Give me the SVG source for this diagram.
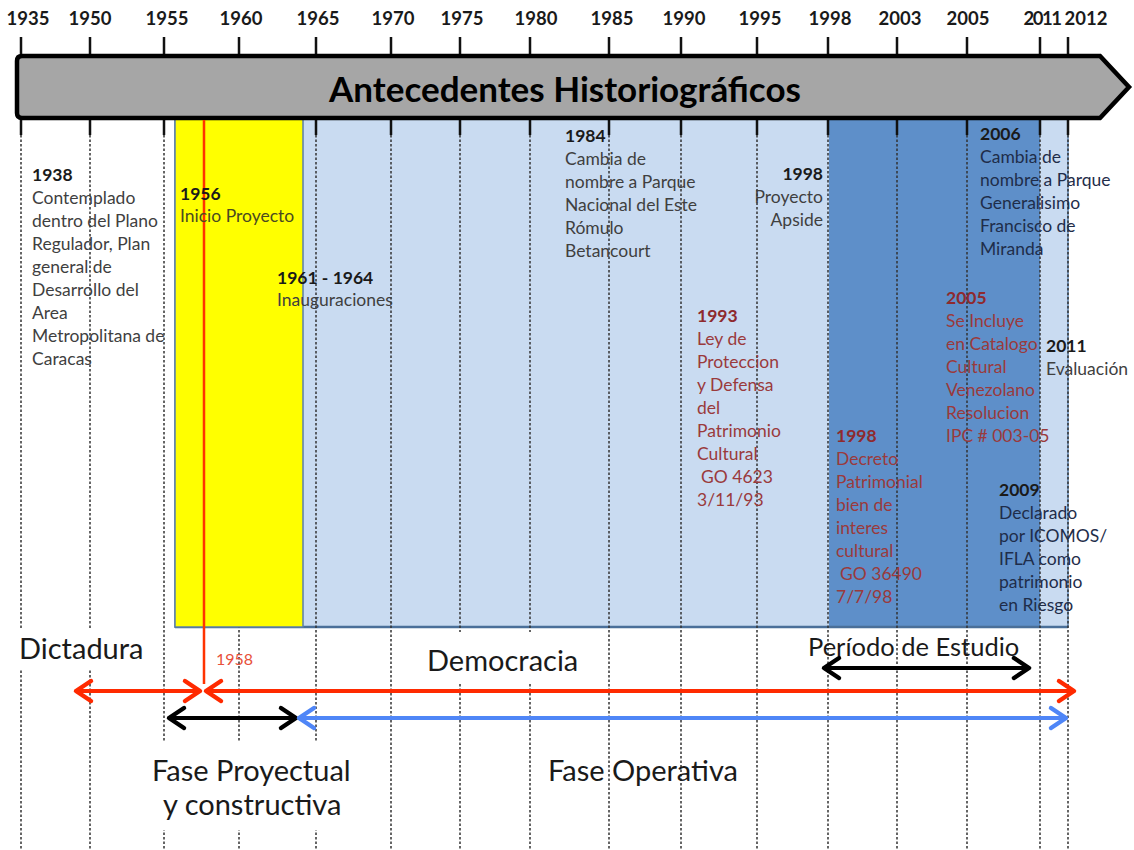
<svg xmlns="http://www.w3.org/2000/svg" width="1134" height="850" viewBox="0 0 1134 850">
<style>
.yr{font-family:Lato,"Liberation Sans",sans-serif;font-weight:bold;font-size:18.5px;fill:#1a1a1a;text-anchor:middle}
.ev{font-family:Lato,"Liberation Sans",sans-serif;font-size:17.5px;fill:#3f3f3f}
.evb{font-weight:bold;fill:#1a1a1a}
.red{fill:#9a3a3c}
.redb{fill:#8e2a2e;font-weight:bold}
.navy{fill:#1f2d4a}
.big{font-family:Lato,"Liberation Sans",sans-serif;font-size:29px;fill:#1a1a1a}
.grid{stroke:#333;stroke-width:1.5;stroke-dasharray:2.5 2}
.tick{stroke:#111;stroke-width:2.5}
</style>
<defs>
<marker id="mr" markerUnits="userSpaceOnUse" markerWidth="40" markerHeight="40" refX="0" refY="0" viewBox="-20 -20 40 40" orient="auto-start-reverse" overflow="visible"><path d="M-15,-10 L0,0 L-15,10" fill="none" stroke="#ff2a00" stroke-width="4.5" stroke-linecap="round" stroke-linejoin="round"/></marker>
<marker id="mk" markerUnits="userSpaceOnUse" markerWidth="40" markerHeight="40" refX="0" refY="0" viewBox="-20 -20 40 40" orient="auto-start-reverse" overflow="visible"><path d="M-15,-10 L0,0 L-15,10" fill="none" stroke="#000" stroke-width="4.5" stroke-linecap="round" stroke-linejoin="round"/></marker>
<marker id="mb" markerUnits="userSpaceOnUse" markerWidth="40" markerHeight="40" refX="0" refY="0" viewBox="-20 -20 40 40" orient="auto-start-reverse" overflow="visible"><path d="M-15,-10 L0,0 L-15,10" fill="none" stroke="#4f86f7" stroke-width="4.5" stroke-linecap="round" stroke-linejoin="round"/></marker>
</defs>
<rect width="1134" height="850" fill="#fff"/>

<g id="periods">
<rect x="175" y="118" width="893" height="509" fill="#c9dbf1" stroke="#5b82b0" stroke-width="1.5"/>
<rect x="829" y="118" width="211" height="509" fill="#5e8fc9"/>
<line x1="175" y1="627" x2="1068" y2="627" stroke="#4a6f99" stroke-width="2.5"/>
</g>

<g id="grid">
<g class="grid">
<line x1="21" y1="135" x2="21" y2="850"/>
<line x1="90" y1="135" x2="90" y2="850"/>
<line x1="164" y1="135" x2="164" y2="850"/>
<line x1="239" y1="135" x2="239" y2="850"/>
<line x1="316" y1="135" x2="316" y2="850"/>
<line x1="391" y1="135" x2="391" y2="850"/>
<line x1="460" y1="135" x2="460" y2="850"/>
<line x1="530" y1="135" x2="530" y2="850"/>
<line x1="609" y1="135" x2="609" y2="850"/>
<line x1="681" y1="135" x2="681" y2="850"/>
<line x1="757" y1="135" x2="757" y2="850"/>
<line x1="828" y1="135" x2="828" y2="850"/>
<line x1="897" y1="135" x2="897" y2="850"/>
<line x1="967" y1="135" x2="967" y2="850"/>
<line x1="1040" y1="135" x2="1040" y2="850"/>
<line x1="1068" y1="135" x2="1068" y2="850"/>
</g>
<g class="tick">
<path d="M21,37V55M90,37V55M164,37V55M239,37V55M316,37V55M391,37V55M460,37V55M530,37V55M609,37V55M681,37V55M757,37V55M828,37V55M897,37V55M967,37V55M1040,37V55M1068,37V55"/>
<path d="M21,118V135M90,118V135M164,118V135M316,118V135M391,118V135M460,118V135M530,118V135M609,118V135M681,118V135M757,118V135M828,118V135M897,118V135M967,118V135M1040,118V135M1068,118V135"/>
</g>
</g>

<g id="yellow">
<rect x="175" y="118" width="128" height="509" fill="#ffff00" stroke="#5b7fa8" stroke-width="1.5"/>
</g>

<g id="years">
<text class="yr" x="28" y="25">1935</text>
<text class="yr" x="90" y="25">1950</text>
<text class="yr" x="167" y="25">1955</text>
<text class="yr" x="241" y="25">1960</text>
<text class="yr" x="318" y="25">1965</text>
<text class="yr" x="393" y="25">1970</text>
<text class="yr" x="462" y="25">1975</text>
<text class="yr" x="536" y="25">1980</text>
<text class="yr" x="612" y="25">1985</text>
<text class="yr" x="684" y="25">1990</text>
<text class="yr" x="760" y="25">1995</text>
<text class="yr" x="830" y="25">1998</text>
<text class="yr" x="900" y="25">2003</text>
<text class="yr" x="968" y="25">2005</text>
<text class="yr" x="1042" y="25" letter-spacing="-1.5">2011</text>
<text class="yr" x="1086" y="25">2012</text>
</g>

<g id="bar">
<path d="M22,56 H1100 L1129,87 L1100,118 H22 Q17,118 17,113 V61 Q17,56 22,56 Z" fill="#a6a6a6" stroke="#000" stroke-width="4.5" stroke-linejoin="miter"/>
<text x="565" y="102" text-anchor="middle" font-family="Lato,'Liberation Sans',sans-serif" font-weight="bold" font-size="35" fill="#000">Antecedentes Historiográficos</text>
</g>

<g id="red-line">
<line x1="204" y1="120" x2="204" y2="684" stroke="#ff3300" stroke-width="2.5"/>
</g>

<g id="ev1938" class="ev">
<text x="32" y="181" class="evb">1938</text>
<text x="32" y="204">Contemplado</text>
<text x="32" y="227">dentro del Plano</text>
<text x="32" y="250">Regulador, Plan</text>
<text x="32" y="273">general de</text>
<text x="32" y="296">Desarrollo del</text>
<text x="32" y="319">Area</text>
<text x="32" y="342">Metropolitana de</text>
<text x="32" y="365">Caracas</text>
</g>
<g id="ev1956" class="ev">
<text x="180" y="200" class="evb">1956</text>
<text x="180" y="222" fill="#4a4a20">Inicio Proyecto</text>
</g>
<g id="ev1961" class="ev">
<text x="277" y="284" class="evb">1961 - 1964</text>
<text x="277" y="306">Inauguraciones</text>
</g>
<g id="ev1984" class="ev">
<text x="565" y="142" class="evb">1984</text>
<text x="565" y="165">Cambia de</text>
<text x="565" y="188">nombre a Parque</text>
<text x="565" y="211">Nacional del Este</text>
<text x="565" y="234">Rómulo</text>
<text x="565" y="257">Betancourt</text>
</g>
<g id="ev1998a" class="ev" text-anchor="end">
<text x="823" y="180" class="evb">1998</text>
<text x="823" y="203">Proyecto</text>
<text x="823" y="226">Apside</text>
</g>
<g id="ev1993" class="ev">
<text x="697" y="322" class="redb">1993</text>
<text x="697" y="345" class="red">Ley de</text>
<text x="697" y="368" class="red">Proteccion</text>
<text x="697" y="391" class="red">y Defensa</text>
<text x="697" y="414" class="red">del</text>
<text x="697" y="437" class="red">Patrimonio</text>
<text x="697" y="460" class="red">Cultural</text>
<text x="701" y="483" class="red">GO 4623</text>
<text x="697" y="506" class="red">3/11/93</text>
</g>
<g id="ev1998b" class="ev">
<text x="836" y="442" class="redb">1998</text>
<text x="836" y="465" class="red">Decreto</text>
<text x="836" y="488" class="red">Patrimonial</text>
<text x="836" y="511" class="red">bien de</text>
<text x="836" y="534" class="red">interes</text>
<text x="836" y="557" class="red">cultural</text>
<text x="840" y="580" class="red">GO 36490</text>
<text x="836" y="603" class="red">7/7/98</text>
</g>
<g id="ev2006" class="ev">
<text x="980" y="140" class="evb">2006</text>
<text x="980" y="163" class="navy">Cambia de</text>
<text x="980" y="186" class="navy">nombre a Parque</text>
<text x="980" y="209" class="navy">Generalisimo</text>
<text x="980" y="232" class="navy">Francisco de</text>
<text x="980" y="255" class="navy">Miranda</text>
</g>
<g id="ev2005" class="ev">
<text x="946" y="304" class="redb">2005</text>
<text x="946" y="327" class="red">Se Incluye</text>
<text x="946" y="350" class="red">en Catalogo</text>
<text x="946" y="373" class="red">Cultural</text>
<text x="946" y="396" class="red">Venezolano</text>
<text x="946" y="419" class="red">Resolucion</text>
<text x="946" y="442" class="red">IPC # 003-05</text>
</g>
<g id="ev2011" class="ev">
<text x="1046" y="352" class="evb">2011</text>
<text x="1046" y="375">Evaluación</text>
</g>
<g id="ev2009" class="ev">
<text x="999" y="496" class="evb">2009</text>
<text x="999" y="519" class="navy">Declarado</text>
<text x="999" y="542" class="navy">por ICOMOS/</text>
<text x="999" y="565" class="navy">IFLA como</text>
<text x="999" y="588" class="navy">patrimonio</text>
<text x="999" y="611" class="navy">en Riesgo</text>
</g>

<g id="labels">
<rect x="5" y="630" width="150" height="40" fill="#fff"/>
<text class="big" x="19" y="659">Dictadura</text>
<rect x="420" y="632" width="180" height="52" fill="#fff"/>
<text class="big" x="427" y="671">Democracia</text>
<text class="big" x="808" y="656" style="font-size:25.5px">Período de Estudio</text>
<text x="216" y="665" font-family="Lato,'Liberation Sans',sans-serif" font-size="16" fill="#e8503a">1958</text>
<rect x="145" y="742" width="218" height="88" fill="#fff"/>
<text class="big" x="152" y="781">Fase Proyectual</text>
<text class="big" x="163" y="815">y constructiva</text>
<text class="big" x="548" y="781">Fase Operativa</text>
</g>

<g id="connectors" fill="none" stroke-width="4">
<line x1="76" y1="691" x2="200" y2="691" stroke="#ff2a00" marker-start="url(#mr)" marker-end="url(#mr)"/>
<line x1="206" y1="691" x2="1074" y2="691" stroke="#ff2a00" marker-start="url(#mr)" marker-end="url(#mr)"/>
<line x1="169" y1="718" x2="296" y2="718" stroke="#000" marker-start="url(#mk)" marker-end="url(#mk)"/>
<line x1="299" y1="718" x2="1066" y2="718" stroke="#4f86f7" marker-start="url(#mb)" marker-end="url(#mb)"/>
<line x1="824" y1="668" x2="1029" y2="668" stroke="#000" marker-start="url(#mk)" marker-end="url(#mk)"/>
</g>
</svg>
